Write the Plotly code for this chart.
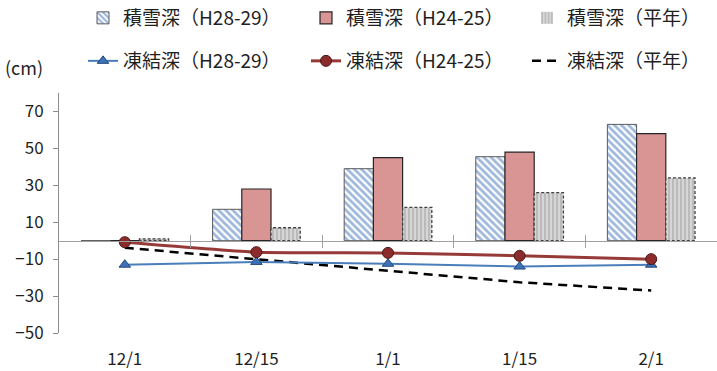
import plotly.graph_objects as go

# 観測日
dates = ["12/1", "12/15", "1/1", "1/15", "2/1"]

# 積雪深 (cm)
snow_h28 = [0, 17, 39, 45.5, 63]
snow_h24 = [0, 28, 45, 48, 58]
snow_avg = [1, 7, 18, 26, 34]

# 凍結深 (cm, 負値)
frost_h28 = [-13, -11.5, -12.5, -14, -13]
frost_h24 = [-0.8, -6.2, -6.6, -8.2, -10]
frost_avg = [-3.8, -10.2, -16.3, -22.5, -27]

yticks = [-50, -30, -10, 10, 30, 50, 70]

FONT = "Noto Sans CJK JP"
TXT = "#1f1f1f"
idx = list(range(len(dates)))
bw = 0.222  # bar width in category units
offs = [-1.5 * bw, -0.5 * bw, 0.5 * bw]

fig = go.Figure()

fig.add_trace(go.Bar(
    x=idx, y=snow_h28, width=bw, offset=offs[0], name="積雪深（H28-29）",
    marker=dict(color="white", line=dict(color="#5a5a5a", width=1),
                pattern=dict(shape="\\", fgcolor="#3f72b8", bgcolor="white",
                             size=5, solidity=0.55)),
    legend="legend",
))
fig.add_trace(go.Bar(
    x=idx, y=snow_h24, width=bw, offset=offs[1], name="積雪深（H24-25）",
    marker=dict(color="#d99594", line=dict(color="#262626", width=1.2)),
    legend="legend2",
))
fig.add_trace(go.Bar(
    x=idx, y=snow_avg, width=bw, offset=offs[2], name="積雪深（平年）",
    marker=dict(color="#c8c8c8", line=dict(width=0),
                pattern=dict(shape="|", fgcolor="#a0a0a0", bgcolor="#d6d6d6",
                             size=4, solidity=0.5)),
    legend="legend3",
))

# dashed outline around the average snow-depth bars
ox, oy = [], []
for i, v in zip(idx, snow_avg):
    x0 = i + offs[2]
    x1 = x0 + bw
    ox += [x0, x0, x1, x1, x0, None]
    oy += [0, v, v, 0, 0, None]
fig.add_trace(go.Scatter(
    x=ox, y=oy, mode="lines", showlegend=False, hoverinfo="skip",
    line=dict(color="#404040", width=1.3, dash="3px,2px"),
))

fig.add_trace(go.Scatter(
    x=idx, y=frost_avg, mode="lines", name="凍結深（平年）",
    line=dict(color="#000000", width=2.5, dash="9px,6px"),
    legend="legend6",
))
fig.add_trace(go.Scatter(
    x=idx, y=frost_h28, mode="lines+markers", name="凍結深（H28-29）",
    line=dict(color="#4a7ebb", width=2),
    marker=dict(symbol="triangle-up", size=10, color="#3d72b8",
                line=dict(color="#23497a", width=1)),
    legend="legend4",
))
fig.add_trace(go.Scatter(
    x=idx, y=frost_h24, mode="lines+markers", name="凍結深（H24-25）",
    line=dict(color="#963a38", width=3, shape="spline", smoothing=0.4),
    marker=dict(symbol="circle", size=11, color="#8c2b2b",
                line=dict(color="#4d1616", width=1)),
    legend="legend5",
))

# horizontal axis line at zero with category separators
for name in ("x2", "x3"):
    fig.add_trace(go.Scatter(x=[], y=[], xaxis=name, showlegend=False,
                             hoverinfo="skip"))

sep = [i + 0.5 for i in idx[:-1]]
axis_common = dict(
    overlaying="x", anchor="free", position=50 / 130, side="bottom",
    range=[-0.5, len(dates) - 0.5], showline=True, linecolor="#a0a0a0",
    linewidth=1, tickvals=sep, showticklabels=False, tickcolor="#a0a0a0",
    ticklen=6, showgrid=False, zeroline=False,
)


def legend_box(px_left, py_center):
    # one legend entry placed by its pixel position in the figure
    return dict(
        orientation="h", xref="container", yref="container",
        x=px_left / 717, xanchor="left",
        y=1 - py_center / 371, yanchor="middle",
        itemwidth=30, font=dict(size=19, color=TXT, family=FONT),
        bgcolor="rgba(0,0,0,0)", borderwidth=0,
    )


cols = [83, 306, 527]
rows = [18, 61]

fig.update_layout(
    width=717, height=371,
    margin=dict(l=59, r=0, t=93, b=38),
    paper_bgcolor="white", plot_bgcolor="white",
    font=dict(family=FONT, size=17, color=TXT),
    barmode="overlay",
    showlegend=True,
    xaxis=dict(
        range=[-0.5, len(dates) - 0.5], tickvals=idx, ticktext=dates,
        showline=False, showgrid=False, zeroline=False, ticks="",
        ticklabelstandoff=14, tickfont=dict(size=17, color=TXT),
    ),
    xaxis2=dict(axis_common, ticks="outside"),
    xaxis3=dict(axis_common, ticks="inside"),
    yaxis=dict(
        range=[-50, 80], tickvals=yticks, showgrid=False, zeroline=False,
        showline=True, linecolor="#8c8c8c", linewidth=1,
        ticks="outside", ticklen=5, tickcolor="#8c8c8c",
        ticklabelstandoff=6, tickfont=dict(size=17, color=TXT),
    ),
    legend=legend_box(cols[0], rows[0]),
    legend2=legend_box(cols[1], rows[0]),
    legend3=legend_box(cols[2], rows[0]),
    legend4=legend_box(cols[0], rows[1]),
    legend5=legend_box(cols[1], rows[1]),
    legend6=legend_box(cols[2], rows[1]),
    annotations=[dict(
        text="(cm)", xref="paper", yref="paper", x=-56 / 658, y=(333 - 67) / 240,
        xanchor="left", yanchor="middle", showarrow=False,
        font=dict(size=18, color=TXT),
    )],
)

fig.write_html("out.html")
